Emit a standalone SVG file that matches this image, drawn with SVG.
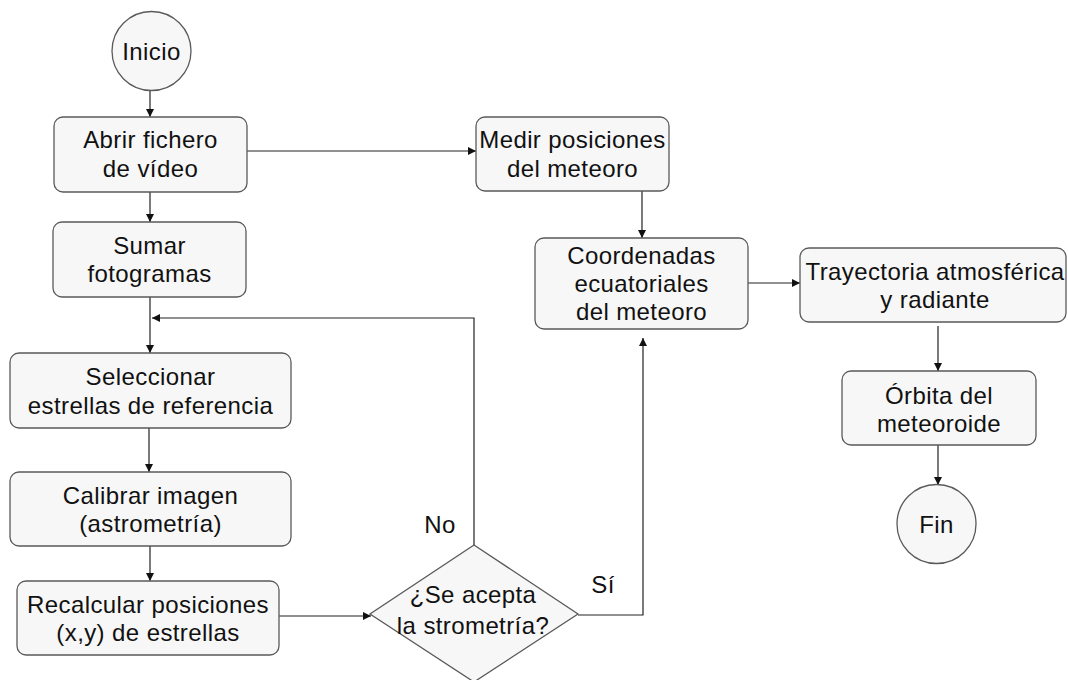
<svg xmlns="http://www.w3.org/2000/svg" width="1068" height="680" viewBox="0 0 1068 680">
  <style>
    .box { fill: #f7f7f7; stroke: #5a5a5a; stroke-width: 1.3; }
    .lbl { font-family: "Liberation Sans", Arial, sans-serif; font-size: 24px; letter-spacing: 0.4px; fill: #111111; text-anchor: middle; }
    .edge { fill: none; stroke: #222222; stroke-width: 1.2; }
  </style>
  <defs>
    <marker id="arrow" viewBox="0 0 10 10" refX="10" refY="5" markerWidth="8" markerHeight="8" markerUnits="userSpaceOnUse" orient="auto">
      <path d="M0,0 L10,5 L0,10 Z" fill="#111111"/>
    </marker>
  </defs>
  <rect width="1068" height="680" fill="#ffffff"/>

  <!-- connectors -->
  <g id="connectors">
    <path class="edge" d="M150,91 V117" marker-end="url(#arrow)"/>
    <path class="edge" d="M150,192 V222" marker-end="url(#arrow)"/>
    <path class="edge" d="M247,151 H476" marker-end="url(#arrow)"/>
    <path class="edge" d="M150,297 V353" marker-end="url(#arrow)"/>
    <path class="edge" d="M474,545 V318 H152" marker-end="url(#arrow)"/>
    <path class="edge" d="M149,428 V472" marker-end="url(#arrow)"/>
    <path class="edge" d="M150,546 V581" marker-end="url(#arrow)"/>
    <path class="edge" d="M279,616 H371" marker-end="url(#arrow)"/>
    <path class="edge" d="M578,615 H643 V338" marker-end="url(#arrow)"/>
    <path class="edge" d="M642,191 V238" marker-end="url(#arrow)"/>
    <path class="edge" d="M748,283 H800" marker-end="url(#arrow)"/>
    <path class="edge" d="M938,326 V371" marker-end="url(#arrow)"/>
    <path class="edge" d="M938,445 V485" marker-end="url(#arrow)"/>
    <text class="lbl" x="440" y="533">No</text>
    <text class="lbl" x="603" y="593">Sí</text>
  </g>

  <g id="inicio">
    <circle class="box" cx="151.5" cy="51" r="39.5"/>
    <text class="lbl" x="151.5" y="60">Inicio</text>
  </g>

  <g id="abrir">
    <rect class="box" x="54" y="117" width="193" height="75" rx="9"/>
    <text class="lbl" x="150.5" y="148">Abrir fichero</text>
    <text class="lbl" x="150.5" y="177">de vídeo</text>
  </g>

  <g id="sumar">
    <rect class="box" x="53" y="222" width="193" height="75" rx="9"/>
    <text class="lbl" x="149.5" y="254">Sumar</text>
    <text class="lbl" x="149.5" y="282">fotogramas</text>
  </g>

  <g id="seleccionar">
    <rect class="box" x="10" y="353" width="281" height="75" rx="9"/>
    <text class="lbl" x="150.5" y="385">Seleccionar</text>
    <text class="lbl" x="150.5" y="414">estrellas de referencia</text>
  </g>

  <g id="calibrar">
    <rect class="box" x="10" y="472" width="281" height="74" rx="9"/>
    <text class="lbl" x="150.5" y="504">Calibrar imagen</text>
    <text class="lbl" x="150.5" y="532">(astrometría)</text>
  </g>

  <g id="recalcular">
    <rect class="box" x="17" y="581" width="262" height="74" rx="9"/>
    <text class="lbl" x="148" y="613">Recalcular posiciones</text>
    <text class="lbl" x="148" y="641">(x,y) de estrellas</text>
  </g>

  <g id="decision">
    <polygon class="box" points="474,545 578,614 474,682 370,614"/>
    <text class="lbl" x="473" y="603">¿Se acepta</text>
    <text class="lbl" x="473" y="634">la strometría?</text>
  </g>

  <g id="medir">
    <rect class="box" x="476" y="117" width="193" height="74" rx="9"/>
    <text class="lbl" x="572.5" y="148">Medir posiciones</text>
    <text class="lbl" x="572.5" y="177">del meteoro</text>
  </g>

  <g id="coordenadas">
    <rect class="box" x="535" y="238" width="213" height="91" rx="9"/>
    <text class="lbl" x="641.5" y="264">Coordenadas</text>
    <text class="lbl" x="641.5" y="292">ecuatoriales</text>
    <text class="lbl" x="641.5" y="320">del meteoro</text>
  </g>

  <g id="trayectoria">
    <rect class="box" x="800" y="248" width="266" height="74" rx="9"/>
    <text class="lbl" x="935" y="280">Trayectoria atmosférica</text>
    <text class="lbl" x="935" y="308">y radiante</text>
  </g>

  <g id="orbita">
    <rect class="box" x="842" y="371" width="194" height="74" rx="9"/>
    <text class="lbl" x="939" y="404">Órbita del</text>
    <text class="lbl" x="939" y="432">meteoroide</text>
  </g>

  <g id="fin">
    <circle class="box" cx="936.5" cy="524" r="39.5"/>
    <text class="lbl" x="936.5" y="533">Fin</text>
  </g>
</svg>
